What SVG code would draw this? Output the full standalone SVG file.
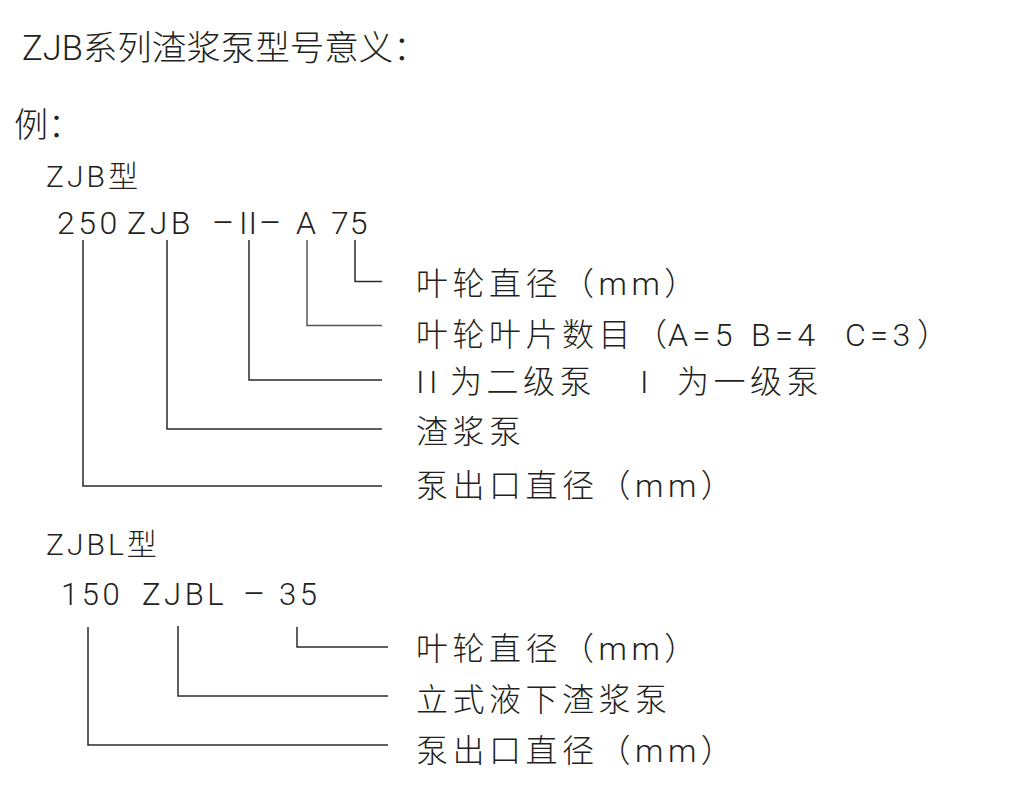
<svg xmlns="http://www.w3.org/2000/svg" width="1028" height="795" viewBox="0 0 1028 795">
<style>
text{font-family:Roboto,"Liberation Sans","Noto Sans CJK SC",sans-serif;fill:#231f20;font-weight:300}
.title{font-size:34.5px}
.head{font-size:30px;letter-spacing:3px}
.code{font-size:32px;letter-spacing:3.5px}
.dash{font-size:34px;letter-spacing:0}
.lbl{font-size:32px;letter-spacing:4.5px}
.conn path{fill:none;stroke:#2b2b2b;stroke-width:1.5}
</style>
<rect width="1028" height="795" fill="#ffffff"/>
<g id="title"><text class="title" x="22" y="60">ZJB系列渣浆泵型号意义：</text></g>
<g id="example"><text class="title" x="14" y="137" style="font-size:34px">例：</text></g>
<g id="zjb-heading"><text class="head" x="46" y="187">ZJB型</text></g>
<g id="zjb-code"><text class="code" y="234"><tspan x="57">250</tspan><tspan x="127">ZJB</tspan><tspan x="212" class="dash">–</tspan><tspan x="239" style="letter-spacing:1px">II</tspan><tspan x="259" class="dash">–</tspan><tspan x="296">A</tspan><tspan x="331" style="letter-spacing:1px">75</tspan></text></g>
<g id="label-impeller-dia"><text class="lbl" x="416" y="295">叶轮直径（mm）</text></g>
<g id="label-blades"><text class="lbl" y="346"><tspan x="416">叶轮叶片数目（</tspan><tspan x="668">A=5</tspan><tspan x="751">B=4</tspan><tspan x="845">C=3</tspan><tspan x="917">）</tspan></text></g>
<g id="label-stage"><text class="lbl" y="393"><tspan x="416">II</tspan><tspan x="450">为二级泵</tspan><tspan x="640">I</tspan><tspan x="677">为一级泵</tspan></text></g>
<g id="label-slurry"><text class="lbl" x="416" y="443">渣浆泵</text></g>
<g id="label-outlet"><text class="lbl" x="416" y="497">泵出口直径（mm）</text></g>
<g id="zjbl-heading"><text class="head" x="46" y="555">ZJBL型</text></g>
<g id="zjbl-code"><text class="code" y="605" style="font-size:31px"><tspan x="61">150</tspan><tspan x="142">ZJBL</tspan><tspan x="243" class="dash">–</tspan><tspan x="279">35</tspan></text></g>
<g id="label2-impeller-dia"><text class="lbl" x="416" y="660">叶轮直径（mm）</text></g>
<g id="label2-vertical"><text class="lbl" x="416" y="711">立式液下渣浆泵</text></g>
<g id="label2-outlet"><text class="lbl" x="416" y="762">泵出口直径（mm）</text></g>
<g id="connectors" class="conn">
<path d="M83,240 V486 H382"/>
<path d="M167,240 V429 H382"/>
<path d="M249,240 V380 H382"/>
<path d="M307,240 V325.5 H382" style="stroke:#555"/>
<path d="M355,240 V281.5 H382"/>
<path d="M88,627 V745 H388"/>
<path d="M178,626 V696 H388"/>
<path d="M297,627 V647 H388"/>
</g>
</svg>
